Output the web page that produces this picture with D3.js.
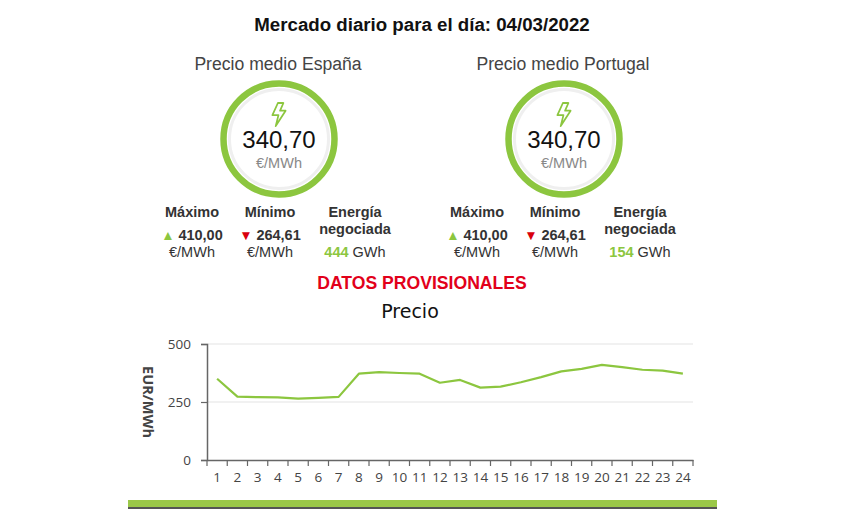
<!DOCTYPE html>
<html><head><meta charset="utf-8">
<script src="https://cdn.jsdelivr.net/npm/d3@7"></script>
<style>html,body{margin:0;padding:0;background:#fff;overflow:hidden}</style>
</head><body>
<svg id="c" width="844" height="509"></svg>
<script>
const title = "Mercado diario para el día: 04/03/2022";
const regions = ["España", "Portugal"];
const avgPrice = ["340,70", "340,70"];
const maxPrice = ["410,00", "410,00"];
const minPrice = ["264,61", "264,61"];
const energy = ["444", "154"];
const hours = d3.range(1, 25).map(String);
const prices = [350, 273, 271, 270, 264.61, 268, 272, 372, 379, 375, 372, 333, 345, 312, 316, 335, 357, 382, 393, 410, 400, 389, 385, 372];
const yTicks = [0, 250, 500];

const green = "#8cc63f";
const svg = d3.select("#c");
const AR = "'Liberation Sans', Arial, sans-serif";

svg.append("text").attr("x", 422).attr("y", 31).attr("text-anchor", "middle")
  .attr("font-family", AR).attr("font-weight", "bold").attr("font-size", 18.7).attr("fill", "#111").text(title);

const centers = [279, 564];
const statOffsets = [-87, -9, 76];
regions.forEach((r, i) => {
  const cx = centers[i];
  svg.append("text").attr("x", cx - 1).attr("y", 70).attr("text-anchor", "middle")
    .attr("font-family", AR).attr("font-size", 17.6).attr("fill", "#444").text("Precio medio " + r);
  svg.append("circle").attr("cx", cx).attr("cy", 139).attr("r", 55.5).attr("fill", "#fff")
    .attr("stroke", green).attr("stroke-width", 6.5);
  svg.append("circle").attr("cx", cx).attr("cy", 139).attr("r", 49.5).attr("fill", "none")
    .attr("stroke", "#efefef").attr("stroke-width", 3);
  svg.append("path").attr("transform", `translate(${cx},114) scale(1.1)`)
    .attr("d", "M -1,-10 L -6,1 L -0.5,1 L -3,11 L 6,-3 L 1,-3 L 4,-10 Z")
    .attr("fill", "none").attr("stroke", green).attr("stroke-width", 1.6).attr("stroke-linejoin", "round");
  svg.append("text").attr("x", cx).attr("y", 148).attr("text-anchor", "middle")
    .attr("font-family", AR).attr("font-size", 24).attr("fill", "#111").text(avgPrice[i]);
  svg.append("text").attr("x", cx).attr("y", 168).attr("text-anchor", "middle")
    .attr("font-family", AR).attr("font-size", 14.5).attr("fill", "#888").text("€/MWh");

  const sx = statOffsets.map(o => cx + o);
  const FS = 14.5;
  const lab = (x, y, t, opts = {}) => svg.append("text").attr("x", x).attr("y", y).attr("text-anchor", "middle")
    .attr("font-family", AR).attr("font-size", FS).attr("font-weight", opts.bold ? "bold" : "normal")
    .attr("fill", opts.fill || "#333").text(t);
  lab(sx[0], 217, "Máximo", {bold: true});
  const t1 = svg.append("text").attr("x", sx[0]).attr("y", 240).attr("text-anchor", "middle")
    .attr("font-family", AR).attr("font-size", FS).attr("font-weight", "bold").attr("fill", "#333");
  t1.append("tspan").attr("fill", green).attr("font-size", 13.5).text("▲ ");
  t1.append("tspan").text(maxPrice[i]);
  lab(sx[0], 257, "€/MWh");
  lab(sx[1], 217, "Mínimo", {bold: true});
  const t2 = svg.append("text").attr("x", sx[1]).attr("y", 240).attr("text-anchor", "middle")
    .attr("font-family", AR).attr("font-size", FS).attr("font-weight", "bold").attr("fill", "#333");
  t2.append("tspan").attr("fill", "#d9000d").attr("font-size", 13.5).text("▼ ");
  t2.append("tspan").text(minPrice[i]);
  lab(sx[1], 257, "€/MWh");
  lab(sx[2], 217, "Energía", {bold: true});
  lab(sx[2], 234, "negociada", {bold: true});
  const t3 = svg.append("text").attr("x", sx[2]).attr("y", 257).attr("text-anchor", "middle")
    .attr("font-family", AR).attr("font-size", FS).attr("fill", "#333");
  t3.append("tspan").attr("fill", green).attr("font-weight", "bold").text(energy[i]);
  t3.append("tspan").text(" GWh");
});

svg.append("text").attr("x", 422).attr("y", 289).attr("text-anchor", "middle")
  .attr("font-family", AR).attr("font-weight", "bold").attr("font-size", 17.6).attr("fill", "#e2001a").text("DATOS PROVISIONALES");
svg.append("text").attr("x", 410).attr("y", 318).attr("text-anchor", "middle")
  .attr("font-family", "'DejaVu Sans', sans-serif").attr("font-size", 19).attr("fill", "#111").text("Precio");

// chart
const x = d3.scaleBand().domain(hours).range([207, 693]);
const y = d3.scaleLinear().domain([0, 500]).range([460, 344]);

svg.append("g").selectAll("line").data(yTicks.filter(d => d > 0)).join("line")
  .attr("x1", 207).attr("x2", 693).attr("y1", d => y(d)).attr("y2", d => y(d))
  .attr("stroke", "#e4e4e4").attr("stroke-width", 1.2);

const ya = svg.append("g").attr("transform", "translate(207,0)")
  .call(d3.axisLeft(y).tickValues(yTicks).tickSize(6).tickPadding(10));
ya.select(".domain").attr("stroke", "#666").attr("stroke-width", 1.5);
ya.selectAll(".tick line").attr("stroke", "#666").attr("stroke-width", 1.2);
ya.selectAll("text").attr("font-family", "'Open Sans', sans-serif").attr("font-size", 13.5).attr("fill", "#444");

const xa = svg.append("g").attr("transform", "translate(0,460)")
  .call(d3.axisBottom(x).tickSize(0).tickPadding(12));
xa.select(".domain").attr("stroke", "#666").attr("stroke-width", 1.5);
xa.selectAll("text").attr("font-family", "'Open Sans', sans-serif").attr("font-size", 13.5).attr("fill", "#444");
const bounds = hours.map(h => x(h)).concat([x.range()[1]]);
svg.append("g").selectAll("line").data(bounds).join("line")
  .attr("x1", d => d).attr("x2", d => d).attr("y1", 460).attr("y2", 466)
  .attr("stroke", "#666").attr("stroke-width", 1.2);

svg.append("text").attr("transform", "translate(143,402) rotate(90)").attr("text-anchor", "middle")
  .attr("font-family", "'Open Sans', sans-serif").attr("font-weight", "bold").attr("font-size", 14.5).attr("fill", "#444")
  .text("EUR/MWh");

const line = d3.line().x((d, i) => x(hours[i]) + x.bandwidth() / 2).y(d => y(d));
svg.append("path").datum(prices).attr("d", line).attr("fill", "none")
  .attr("stroke", green).attr("stroke-width", 2.2).attr("stroke-linejoin", "round");

svg.append("rect").attr("x", 128).attr("y", 500).attr("width", 589).attr("height", 7).attr("fill", "#9bc848");
svg.append("rect").attr("x", 128).attr("y", 507).attr("width", 589).attr("height", 2).attr("fill", "#555");
</script>
</body></html>
